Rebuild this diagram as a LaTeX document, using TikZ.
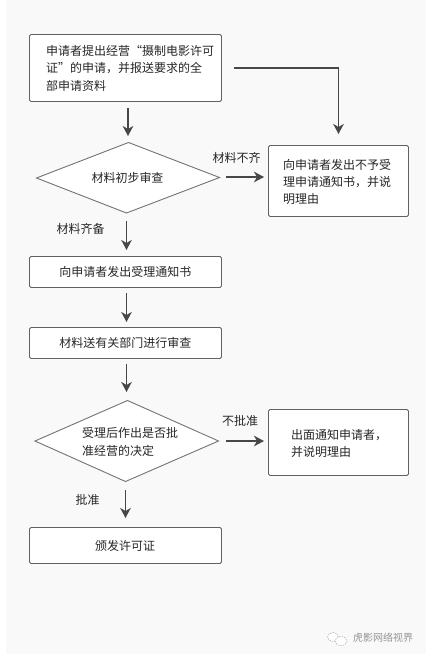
\documentclass[tikz,border=0pt]{standalone}
\usepackage{fontspec}
\setmainfont{Noto Sans CJK SC}
\usetikzlibrary{arrows.meta}
\tikzset{
 x=1pt,y=-1pt,
 box/.style={draw=black!62,fill=white,rounded corners=1.5pt,line width=0.9pt},
 dia/.style={draw=black!55,fill=white,line width=0.9pt},
 lab/.style={font=\fontsize{12}{17}\selectfont,text=black!85,inner sep=0pt},
 arr/.style={draw=black!72,line width=1.9pt,-{Stealth[length=10pt,width=10.5pt,inset=3pt]}},
 bubble/.style={draw=black!25,fill=white,line width=0.7pt,dash pattern=on 1.5pt off 1pt},
}
\begin{document}
\begin{tikzpicture}
\useasboundingbox (0,0) rectangle (426,657);
\fill[white] (0,0) rectangle (426,657);
\fill[black!2.5] (6,0) rectangle (426,654);
% boxes
\draw[box] (29.5,34.5) rectangle (221.5,101.5);
\draw[box] (268.5,145.5) rectangle (408.5,216.5);
\draw[box] (29.5,256.5) rectangle (221.5,287.5);
\draw[box] (29.5,327.5) rectangle (221.5,358.5);
\draw[box] (268.5,409.5) rectangle (408.5,475.5);
\draw[box] (29.5,527.5) rectangle (221.5,563.5);
\draw[dia] (128.5,142.5) -- (219.5,177.5) -- (126.5,213) -- (36.5,178) -- cycle;
\draw[dia] (127.5,400.5) -- (218.5,441) -- (125.5,481.5) -- (35,441) -- cycle;
% named anchors
\coordinate (a1s) at (128,108); \coordinate (a1e) at (128,136);
\coordinate (a2s) at (234,68); \coordinate (a2m) at (338.5,68); \coordinate (a2e) at (338.5,134);
\coordinate (a3s) at (226,177); \coordinate (a3e) at (264,177);
\coordinate (a4s) at (126.5,221); \coordinate (a4e) at (126.5,250);
\coordinate (a5s) at (126.5,293); \coordinate (a5e) at (126.5,322);
\coordinate (a6s) at (126.5,364); \coordinate (a6e) at (126.5,392);
\coordinate (a7s) at (226,441); \coordinate (a7e) at (264,441);
\coordinate (a8s) at (125.5,490); \coordinate (a8e) at (125.5,518);
\draw[arr] (a1s) -- (a1e);
\draw[arr] (a2s) -- (a2m) -- (a2e);
\draw[arr] (a3s) -- (a3e);
\draw[arr] (a4s) -- (a4e);
\draw[arr] (a5s) -- (a5e);
\draw[arr] (a6s) -- (a6e);
\draw[arr] (a7s) -- (a7e);
\draw[arr] (a8s) -- (a8e);
% text
\node[lab,anchor=west] (t1a) at (46,51) {申请者提出经营“摄制电影许可};
\node[lab,anchor=west] (t1b) at (46,68) {证”的申请，并报送要求的全};
\node[lab,anchor=west] (t1c) at (46,86) {部申请资料};
\node[lab] (t2) at (127.5,178) {材料初步审查};
\node[lab] (t3) at (236.5,158) {材料不齐};
\node[lab,anchor=west] (t4a) at (283,165) {向申请者发出不予受};
\node[lab,anchor=west] (t4b) at (283,182) {理申请通知书，并说};
\node[lab,anchor=west] (t4c) at (283,199) {明理由};
\node[lab] (t5) at (80.5,229) {材料齐备};
\node[lab] (t6) at (125.5,272) {向申请者发出受理通知书};
\node[lab] (t7) at (125.5,343) {材料送有关部门进行审查};
\node[lab,anchor=west] (t8a) at (82,433) {受理后作出是否批};
\node[lab,anchor=west] (t8b) at (82,451) {准经营的决定};
\node[lab] (t9) at (240,421) {不批准};
\node[lab,anchor=west] (t10a) at (291,435) {出面通知申请者，};
\node[lab,anchor=west] (t10b) at (291,452) {并说明理由};
\node[lab] (t11) at (87.5,500) {批准};
\node[lab] (t12) at (125,546) {颁发许可证};
% watermark
\draw[bubble] (333,637) ellipse (5.5 and 4.5);
\draw[bubble] (341,641) ellipse (6 and 4.5);
\node[lab,font=\fontsize{10}{12}\selectfont,text=black!42] (t13) at (383,638) {虎影网络视界};
\end{tikzpicture}
\end{document}
